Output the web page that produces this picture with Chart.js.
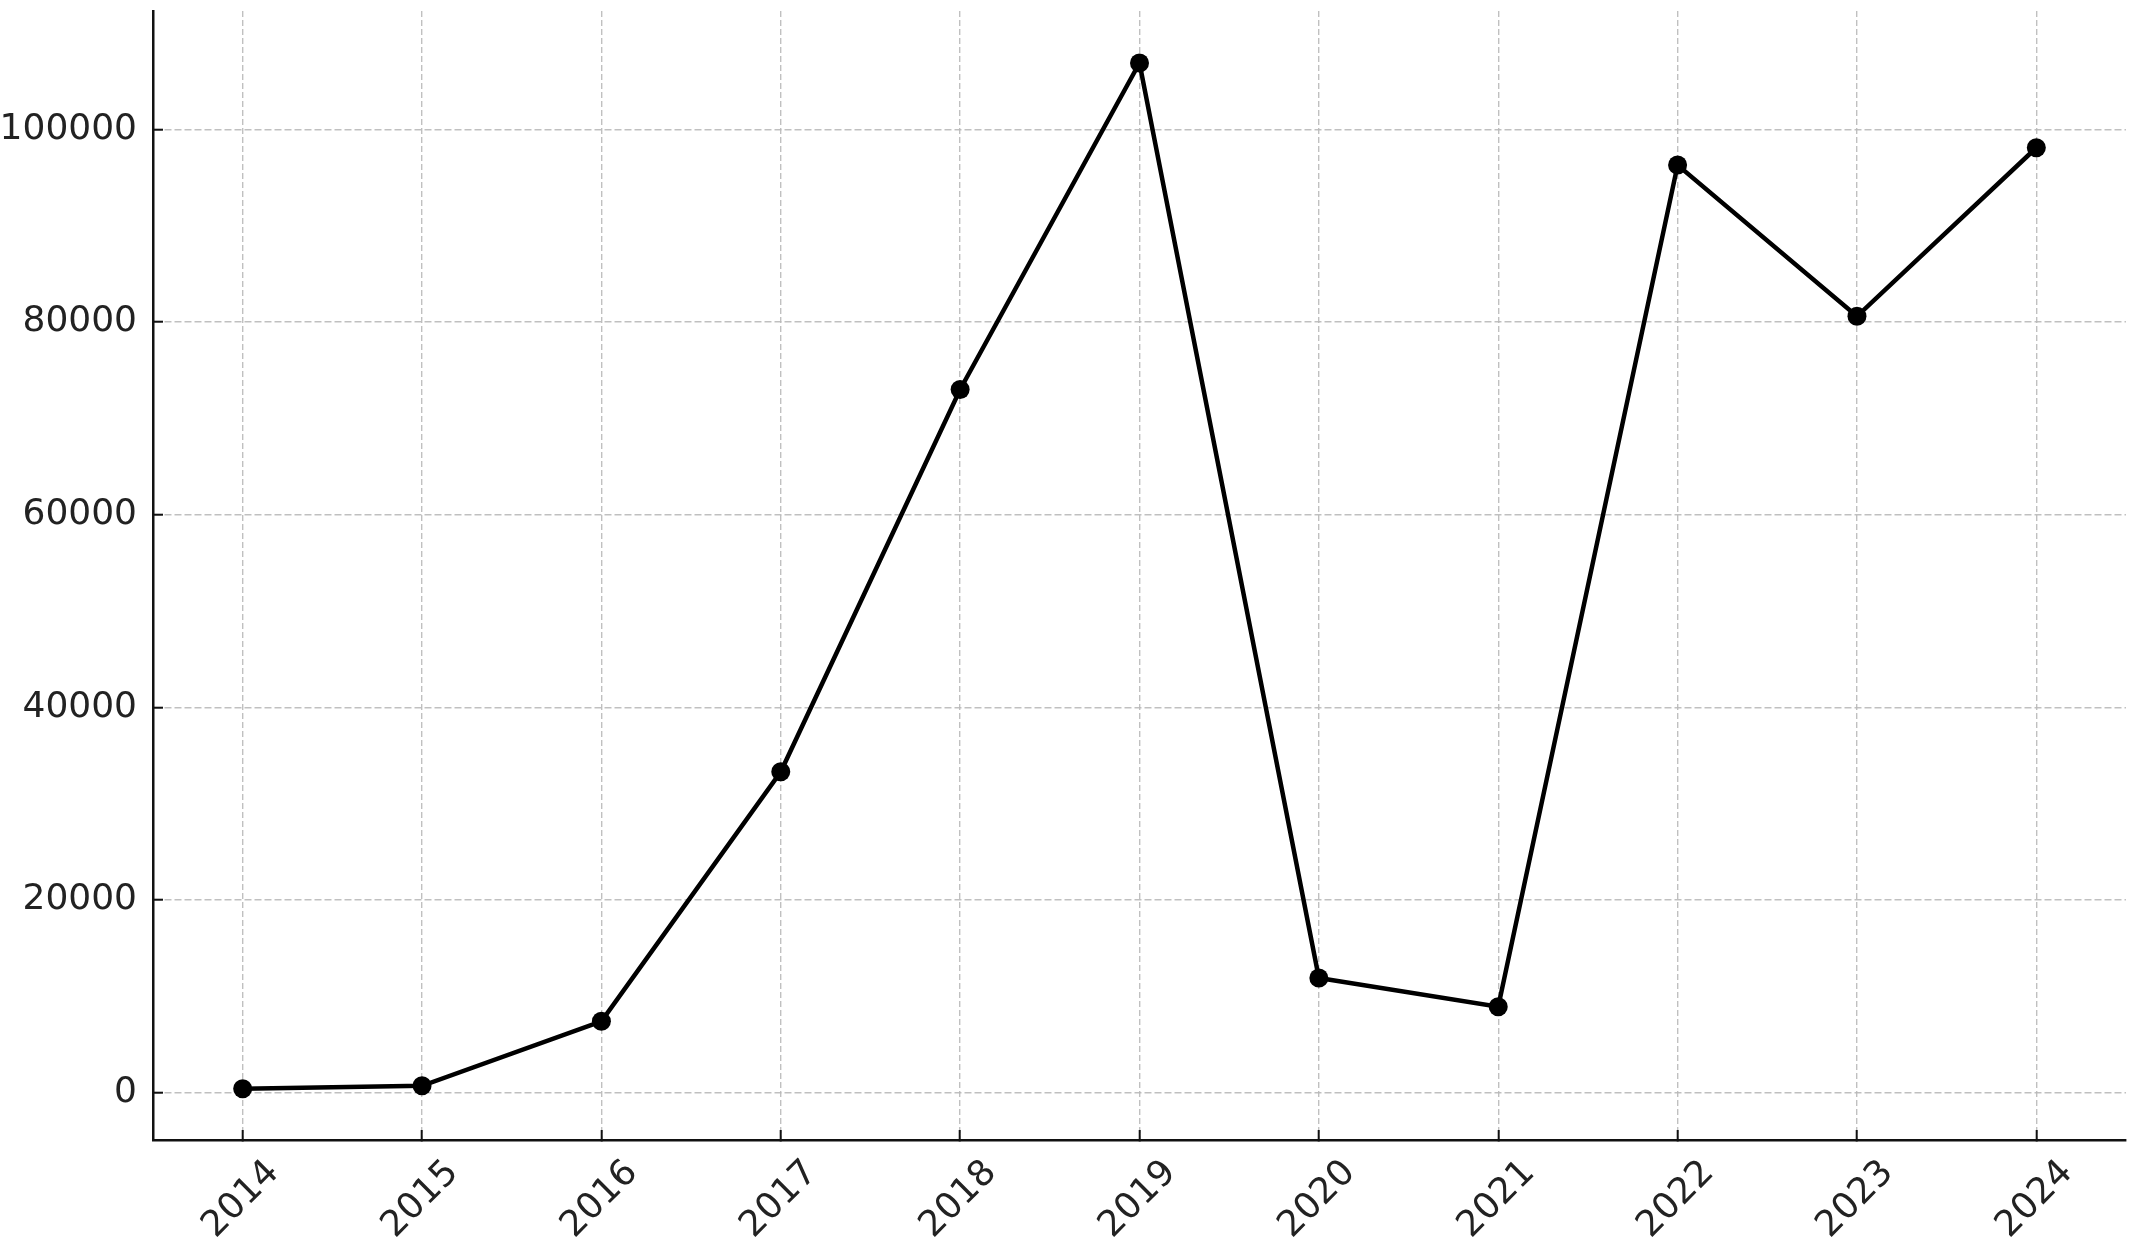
<!DOCTYPE html>
<html>
<head>
<meta charset="utf-8">
<script src="https://cdn.jsdelivr.net/npm/chart.js@4.4.1/dist/chart.umd.min.js"></script>
<style>
    html, body { margin: 0; padding: 0; background: #fff; }
    #contenedor { width: 2144px; height: 1242px; }
</style>
</head>
<body>
<div id="contenedor">
    <canvas id="grafica" width="2144" height="1242"></canvas>
</div>
<script>
// Etiquetas del eje X (años)
const etiquetas = ["2014", "2015", "2016", "2017", "2018", "2019", "2020", "2021", "2022", "2023", "2024"];

// Valores
const valores = [400, 700, 7400, 33300, 73000, 106900, 11900, 8900, 96300, 80600, 98100];

// Marcas del eje Y
const marcasY = [0, 20000, 40000, 60000, 80000, 100000];

const $grafica = document.querySelector("#grafica");

const colorTexto = '#222';
const colorRejilla = 'rgba(185,185,185,0.9)';

new Chart($grafica, {
    type: 'line',
    data: {
        labels: etiquetas,
        datasets: [{
            data: valores,
            borderColor: '#000',
            backgroundColor: '#000',
            borderWidth: 4.5,
            pointRadius: 9.5,
            pointBorderWidth: 0,
            pointBackgroundColor: '#000',
            tension: 0,
            fill: false,
        }]
    },
    options: {
        responsive: false,
        animation: false,
        devicePixelRatio: 1,
        layout: {
            padding: { top: 11, right: 18, left: 0, bottom: 0 }
        },
        plugins: {
            legend: { display: false },
            title: { display: false },
            tooltip: { enabled: false },
        },
        scales: {
            x: {
                type: 'category',
                offset: true,
                grid: {
                    offset: false,
                    color: colorRejilla,
                    lineWidth: 1.4,
                    tickLength: -10,
                    tickColor: '#111',
                    tickWidth: 2,
                },
                border: {
                    display: true,
                    color: '#111',
                    width: 2.5,
                    dash: [6, 3],
                },
                ticks: {
                    color: colorTexto,
                    font: { family: 'DejaVu Sans', size: 36 },
                    maxRotation: 45,
                    minRotation: 45,
                    autoSkip: false,
                    padding: 22,
                    labelOffset: 31,
                },
                // Altura fija y sin relleno extra a los lados
                afterFit: (escala) => {
                    escala.height = 102;
                    escala.paddingLeft = 0;
                    escala.paddingRight = 0;
                },
            },
            y: {
                min: -4930,
                max: 112300,
                afterBuildTicks: (escala) => {
                    escala.ticks = marcasY.map(v => ({ value: v }));
                },
                grid: {
                    color: colorRejilla,
                    lineWidth: 1.4,
                    tickLength: -10,
                    tickColor: '#111',
                    tickWidth: 2,
                },
                border: {
                    display: true,
                    color: '#111',
                    width: 2.5,
                    dash: [7, 3],
                },
                ticks: {
                    color: colorTexto,
                    font: { family: 'DejaVu Sans', size: 36 },
                    padding: 26,
                    callback: (valor) => String(valor),
                },
                afterFit: (escala) => {
                    escala.width = 153;
                    escala.paddingTop = 0;
                    escala.paddingBottom = 0;
                },
            },
        },
    }
});
</script>
</body>
</html>
